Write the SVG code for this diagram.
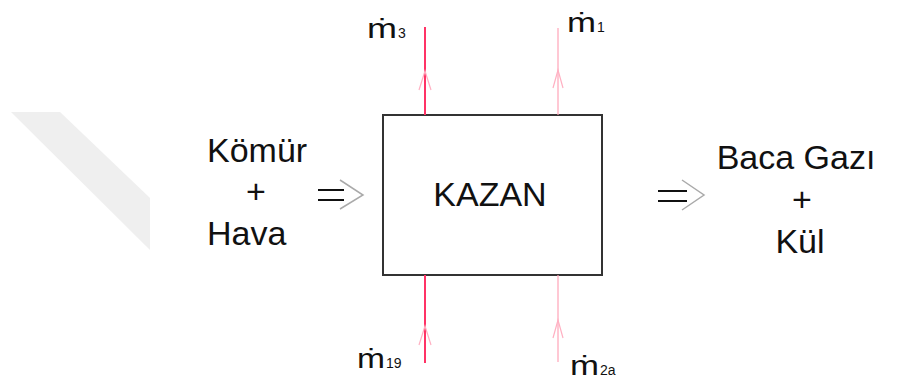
<svg xmlns="http://www.w3.org/2000/svg" width="913" height="385" viewBox="0 0 913 385">
  <style>
    .t { font-family: "Liberation Sans", Arial, "DejaVu Sans", sans-serif; fill: #111; }
    .big { font-size: 34px; }
    .m { font-size: 27px; }
    .sub { font-size: 14px; }
    .strong { stroke: #ff3366; stroke-width: 2; fill: none; }
    .light { stroke: #ffa3b8; stroke-width: 1.2; fill: none; }
    .head { stroke: #ffb0c2; stroke-width: 1.2; fill: none; }
    .dbl { stroke: #111; stroke-width: 2; fill: none; }
    .chev { stroke: #aaa; stroke-width: 1.5; fill: none; }
  </style>
  <rect width="913" height="385" fill="#fff"/>
  <polygon points="11,112 60,112 150,198 150,250" fill="#efefef"/>

  <g id="kazan">
    <rect x="383" y="115" width="219" height="160" fill="#fff" stroke="#333" stroke-width="2"/>
    <text class="t big" x="490" y="206" text-anchor="middle">KAZAN</text>
  </g>

  <g id="input">
    <text class="t big" x="207" y="162">Kömür</text>
    <text class="t big" x="256" y="203" text-anchor="middle">+</text>
    <text class="t big" x="207" y="245">Hava</text>
  </g>

  <g id="output">
    <text class="t big" x="796" y="169" text-anchor="middle">Baca Gazı</text>
    <text class="t big" x="802" y="211" text-anchor="middle">+</text>
    <text class="t big" x="800" y="253" text-anchor="middle">Kül</text>
  </g>

  <g id="m3">
    <text class="t m" x="367" y="38" textLength="30" lengthAdjust="spacingAndGlyphs">ṁ</text>
    <text class="t sub" x="398" y="38">3</text>
  </g>
  <g id="m1">
    <text class="t m" x="567" y="32" textLength="29" lengthAdjust="spacingAndGlyphs">ṁ</text>
    <text class="t sub" x="597" y="32">1</text>
  </g>
  <g id="m19">
    <text class="t m" x="357" y="368" textLength="28" lengthAdjust="spacingAndGlyphs">ṁ</text>
    <text class="t sub" x="386" y="368">19</text>
  </g>
  <g id="m2a">
    <text class="t m" x="570" y="375" textLength="29" lengthAdjust="spacingAndGlyphs">ṁ</text>
    <text class="t sub" x="600" y="375">2a</text>
  </g>

  <g id="connectors">
    <line class="strong" x1="425" y1="115" x2="425" y2="27"/>
    <path class="head" d="M419,90 L425,71 L431,90"/>
    <line class="light" x1="558" y1="115" x2="558" y2="28"/>
    <path class="head" d="M553,88 L558,70 L563,88"/>
    <line class="strong" x1="425" y1="363" x2="425" y2="275"/>
    <path class="head" d="M419,345 L425,326 L431,345"/>
    <line class="light" x1="558" y1="362" x2="558" y2="275"/>
    <path class="head" d="M553,338 L558,320 L563,338"/>

    <path class="dbl" d="M318,190 H344 M318,200 H344"/>
    <path class="chev" d="M340,180 L363,195 L340,209"/>
    <path class="dbl" d="M658,191 H687 M658,201 H687"/>
    <path class="chev" d="M682,180 L704,195 L682,210"/>
  </g>
</svg>
